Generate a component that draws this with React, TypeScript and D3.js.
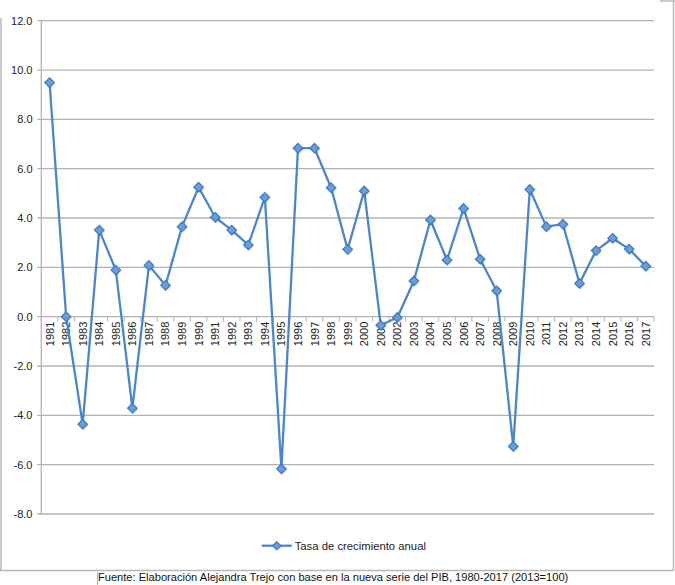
import React from "react";
import * as d3 from "d3";

const years: string[] = [
  "1981","1982","1983","1984","1985","1986","1987","1988","1989","1990",
  "1991","1992","1993","1994","1995","1996","1997","1998","1999","2000",
  "2001","2002","2003","2004","2005","2006","2007","2008","2009","2010",
  "2011","2012","2013","2014","2015","2016","2017",
];
const growth: number[] = [
  9.49, 0.0, -4.36, 3.51, 1.89, -3.71, 2.08, 1.27, 3.65, 5.25,
  4.03, 3.51, 2.91, 4.84, -6.17, 6.83, 6.83, 5.23, 2.73, 5.1,
  -0.35, -0.03, 1.45, 3.92, 2.3, 4.39, 2.33, 1.05, -5.26, 5.16,
  3.65, 3.75, 1.35, 2.68, 3.18, 2.74, 2.05,
];
const yTicks: number[] = [12, 10, 8, 6, 4, 2, 0, -2, -4, -6, -8];
const seriesName = "Tasa de crecimiento anual";
const footer =
  "Fuente: Elaboración Alejandra Trejo con base en la nueva serie del PIB, 1980-2017 (2013=100)";

const W = 675;
const H = 585;
const plotLeft = 41.3;
const plotRight = 654;
const plotTop = 20.7;
const plotBottom = 514;

const FONT = "'Liberation Sans', Arial, Helvetica, sans-serif";
const LINE = "#4d86c8";
const MFILL = "#6a9ed8";
const MSTROKE = "#427cc0";
const GRID = "#b3b3b3";

function Diamond({ cx, cy, r }: { cx: number; cy: number; r: number }) {
  const p = `M${cx},${cy - r}L${cx + r},${cy}L${cx},${cy + r}L${cx - r},${cy}Z`;
  return (
    <g>
      <path d={p} transform="translate(1,1.5)" fill="#000" opacity={0.12} />
      <path d={p} fill={MFILL} stroke={MSTROKE} strokeWidth={1.3} />
    </g>
  );
}

export default function App() {
  const x = d3.scaleBand<string>().domain(years).range([plotLeft, plotRight]);
  const y = d3.scaleLinear().domain([-8, 12]).range([plotBottom, plotTop]);
  const cx = (yr: string) => (x(yr) as number) + x.bandwidth() / 2;
  const data = years.map((yr, i) => ({ yr, v: growth[i] }));
  const line = d3
    .line<{ yr: string; v: number }>()
    .x((d) => cx(d.yr))
    .y((d) => y(d.v));
  const y0 = y(0);

  const legendY = 545.7;
  const legendX0 = 261.7;

  return (
    <svg
      width={W}
      height={H}
      style={{ position: "absolute", left: 0, top: 0, background: "#fff" }}
    >
      {/* outer frame */}
      <g stroke="#b8b8b8" strokeWidth={1.5} fill="none">
        <line x1={1} y1={18} x2={1} y2={570.5} />
        <line x1={0} y1={570.5} x2={674} y2={570.5} />
        <line x1={673.5} y1={1} x2={673.5} y2={570.5} />
        <line x1={660} y1={1} x2={675} y2={1} />
      </g>
      <line x1={97.5} y1={572} x2={97.5} y2={585} stroke="#b8b8b8" strokeWidth={1} />

      {/* gridlines */}
      {yTicks.map((t) => (
        <line
          key={t}
          x1={plotLeft - 4}
          x2={plotRight}
          y1={y(t)}
          y2={y(t)}
          stroke={GRID}
          strokeWidth={1.3}
        />
      ))}
      {/* y axis line */}
      <line x1={plotLeft} x2={plotLeft} y1={plotTop} y2={plotBottom} stroke={GRID} strokeWidth={1.3} />
      {/* y labels */}
      {yTicks.map((t) => (
        <text
          key={"l" + t}
          x={32.5}
          y={y(t) + 4}
          textAnchor="end"
          fontFamily={FONT}
          fontSize={11}
          fill="#222"
        >
          {t.toFixed(1)}
        </text>
      ))}

      {/* x tick marks at category boundaries */}
      {years.map((yr) => (
        <line
          key={"t" + yr}
          x1={x(yr) as number}
          x2={x(yr) as number}
          y1={y0}
          y2={y0 + 5}
          stroke={GRID}
          strokeWidth={1}
        />
      ))}
      <line x1={plotRight} x2={plotRight} y1={y0} y2={y0 + 5} stroke={GRID} strokeWidth={1} />

      {/* x labels */}
      {years.map((yr) => (
        <text
          key={"x" + yr}
          transform={`translate(${cx(yr) + 4},${y0 + 5}) rotate(-90)`}
          textAnchor="end"
          fontFamily={FONT}
          fontSize={11}
          fill="#222"
        >
          {yr}
        </text>
      ))}

      {/* series */}
      <path d={line(data) || ""} fill="none" stroke={LINE} strokeWidth={2.3} strokeLinejoin="round" />
      {data.map((d) => (
        <Diamond key={"m" + d.yr} cx={cx(d.yr)} cy={y(d.v)} r={4.7} />
      ))}

      {/* legend */}
      <line x1={legendX0} x2={legendX0 + 30} y1={legendY} y2={legendY} stroke={LINE} strokeWidth={2.3} />
      <Diamond cx={legendX0 + 15} cy={legendY} r={4} />
      <text x={legendX0 + 33} y={legendY + 4} fontFamily={FONT} fontSize={11.3} fill="#222">
        {seriesName}
      </text>

      {/* footer */}
      <text x={98} y={581} fontFamily={FONT} fontSize={11.1} fill="#111">
        {footer}
      </text>
    </svg>
  );
}
